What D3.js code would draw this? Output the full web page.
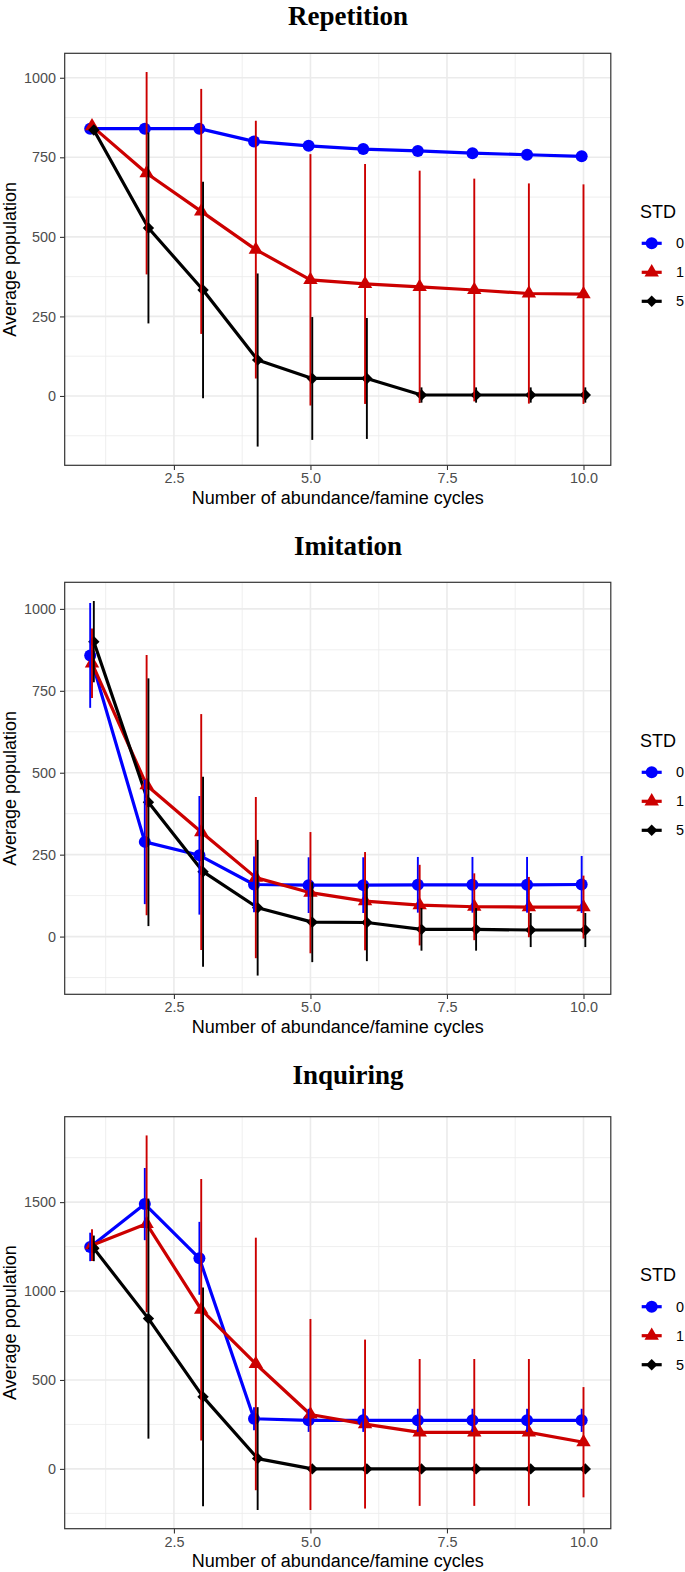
<!DOCTYPE html>
<html>
<head>
<meta charset="utf-8">
<script src="https://cdn.jsdelivr.net/npm/d3@7"></script>
<style>
  body { margin: 0; background: #fff; }
  svg { display: block; }
</style>
</head>
<body>
<svg id="chart" width="685" height="1572"></svg>
<script>
// ---------------- DATA ----------------
const cycles = [1, 2, 3, 4, 5, 6, 7, 8, 9, 10];
const stdLevels = ["0", "1", "5"];
const panelTitles = ["Repetition", "Imitation", "Inquiring"];
const xLabel = "Number of abundance/famine cycles";
const yLabel = "Average population";
const legendTitle = "STD";
const xTicks = [2.5, 5.0, 7.5, 10.0];
const yTicksRep = [0, 250, 500, 750, 1000];
const yTicksImi = [0, 250, 500, 750, 1000];
const yTicksInq = [0, 500, 1000, 1500];

// Repetition
const repMean0 = [840, 840, 840, 800, 786, 776, 770, 763, 758, 753];
const repSd0   = [0, 0, 0, 0, 0, 0, 0, 0, 0, 0];
const repMean1 = [848, 700, 580, 460, 365, 352, 343, 333, 322, 320];
const repSd1   = [0, 318, 385, 405, 395, 377, 365, 350, 346, 345];
const repMean5 = [836, 528, 333, 113, 55, 55, 3, 3, 3, 3];
const repSd5   = [0, 300, 340, 272, 193, 190, 24, 24, 24, 24];

// Imitation
const imiMean0 = [858, 289, 248, 159, 157, 157, 158, 158, 158, 159];
const imiSd0   = [160, 190, 181, 85, 85, 85, 85, 85, 85, 87];
const imiMean1 = [834, 462, 319, 180, 134, 108, 96, 91, 90, 90];
const imiSd1   = [106, 397, 360, 246, 185, 150, 123, 102, 92, 96];
const imiMean5 = [900, 410, 198, 88, 44, 43, 22, 22, 20, 20];
const imiSd5   = [124, 378, 290, 207, 122, 118, 65, 65, 52, 52];

// Inquiring
const inqMean0 = [1248, 1489, 1184, 282, 273, 273, 273, 273, 273, 273];
const inqSd0   = [80, 203, 205, 65, 65, 65, 65, 65, 65, 65];
const inqMean1 = [1258, 1378, 895, 590, 306, 252, 205, 205, 205, 150];
const inqSd1   = [89, 497, 735, 710, 537, 475, 413, 413, 413, 310];
const inqMean5 = [1240, 845, 405, 58, 0, 0, 0, 0, 0, 0];
const inqSd5   = [72, 675, 615, 289, 0, 0, 0, 0, 0, 0];

// ---------------- STYLE / LAYOUT ----------------
const colors = { "0": "#0000FF", "1": "#CC0000", "5": "#000000" };
const dodge = { "0": -1 / 30, "1": 0, "5": 1 / 30 };
const W = 685;
const plotLeft = 64.7, plotRight = 610.8, plotH = 412;
const panelTops = [53.3, 582.3, 1116.7];
const titleBaselines = [24.5, 554.5, 1083.5];
const titleX = 348;
const sansFont = "'Liberation Sans', Arial, Helvetica, sans-serif";
const serifFont = "'Liberation Serif', 'Times New Roman', serif";
const gridCol = "#EBEBEB";
const axisTextCol = "#4D4D4D";

const panelsData = [
  { means: [repMean0, repMean1, repMean5], sds: [repSd0, repSd1, repSd5], yTicks: yTicksRep },
  { means: [imiMean0, imiMean1, imiMean5], sds: [imiSd0, imiSd1, imiSd5], yTicks: yTicksImi },
  { means: [inqMean0, inqMean1, inqMean5], sds: [inqSd0, inqSd1, inqSd5], yTicks: yTicksInq }
];

const svg = d3.select("#chart");
svg.append("rect").attr("width", W).attr("height", 1572).attr("fill", "#fff");

function markerPath(level, size) {
  if (level === "0") {
    const r = size;
    return `M${-r},0A${r},${r} 0 1,0 ${r},0A${r},${r} 0 1,0 ${-r},0Z`;
  } else if (level === "1") {
    const hw = size * 1.2, h = size * 2.05;
    return `M0,${-h * 2 / 3}L${hw},${h / 3}L${-hw},${h / 3}Z`;
  } else {
    const d = size * 0.95;
    return `M0,${-d}L${d},0L0,${d}L${-d},0Z`;
  }
}

const xScale = d3.scaleLinear().domain([0.5, 10.5]).range([plotLeft, plotRight]);

panelsData.forEach((pd, pi) => {
  const top = panelTops[pi];
  const bottom = top + plotH;

  let lo = Infinity, hi = -Infinity;
  pd.means.forEach((m, si) => m.forEach((v, i) => {
    lo = Math.min(lo, v - pd.sds[si][i]);
    hi = Math.max(hi, v + pd.sds[si][i]);
  }));
  const pad = (hi - lo) * 0.05;
  const y = d3.scaleLinear().domain([lo - pad, hi + pad]).range([bottom, top]);

  const g = svg.append("g");

  const step = pd.yTicks[1] - pd.yTicks[0];
  const yMinor = [];
  for (let v = pd.yTicks[0] - step / 2; v <= hi + pad; v += step) {
    if (v >= lo - pad) yMinor.push(v);
  }
  const xMinor = [];
  const xs = xTicks[1] - xTicks[0];
  for (let v = xTicks[0] - xs / 2; v <= 10.5; v += xs) if (v >= 0.5) xMinor.push(v);

  g.selectAll(".ymin").data(yMinor).enter().append("line")
    .attr("x1", plotLeft).attr("x2", plotRight)
    .attr("y1", d => y(d)).attr("y2", d => y(d))
    .attr("stroke", gridCol).attr("stroke-width", 0.8);
  g.selectAll(".xmin").data(xMinor).enter().append("line")
    .attr("y1", top).attr("y2", bottom)
    .attr("x1", d => xScale(d)).attr("x2", d => xScale(d))
    .attr("stroke", gridCol).attr("stroke-width", 0.8);
  g.selectAll(".ymaj").data(pd.yTicks).enter().append("line")
    .attr("x1", plotLeft).attr("x2", plotRight)
    .attr("y1", d => y(d)).attr("y2", d => y(d))
    .attr("stroke", gridCol).attr("stroke-width", 1.6);
  g.selectAll(".xmaj").data(xTicks).enter().append("line")
    .attr("y1", top).attr("y2", bottom)
    .attr("x1", d => xScale(d)).attr("x2", d => xScale(d))
    .attr("stroke", gridCol).attr("stroke-width", 1.6);

  const yAxis = d3.axisLeft(y).tickValues(pd.yTicks).tickSize(4.7).tickPadding(4).tickFormat(d3.format("d"));
  const ya = g.append("g").attr("transform", `translate(${plotLeft},0)`).call(yAxis);
  const xAxis = d3.axisBottom(xScale).tickValues(xTicks).tickSize(4.7).tickPadding(3).tickFormat(d3.format(".1f"));
  const xa = g.append("g").attr("transform", `translate(0,${bottom})`).call(xAxis);
  [ya, xa].forEach(a => {
    a.select(".domain").remove();
    a.selectAll(".tick line").attr("stroke", "#333333").attr("stroke-width", 1.1);
    a.selectAll(".tick text").attr("fill", axisTextCol)
      .style("font-family", sansFont).style("font-size", "14.4px");
  });

  const series = stdLevels.map((lvl, si) => cycles.map((c, i) => ({
    x: c + dodge[lvl], m: pd.means[si][i], s: pd.sds[si][i], lvl
  })));

  const line = d3.line().x(d => xScale(d.x)).y(d => y(d.m));
  series.forEach((s, si) => {
    g.append("path").datum(s).attr("d", line)
      .attr("fill", "none").attr("stroke", colors[stdLevels[si]])
      .attr("stroke-width", 3.2).attr("stroke-linejoin", "round");
  });
  series.forEach((s, si) => {
    g.selectAll(null).data(s).enter().append("path")
      .attr("d", markerPath(stdLevels[si], 6))
      .attr("transform", d => `translate(${xScale(d.x)},${y(d.m)})`)
      .attr("fill", colors[stdLevels[si]]);
  });
  series.forEach((s, si) => {
    g.selectAll(null).data(s.filter(d => d.s > 0)).enter().append("line")
      .attr("x1", d => xScale(d.x)).attr("x2", d => xScale(d.x))
      .attr("y1", d => y(d.m - d.s)).attr("y2", d => y(d.m + d.s))
      .attr("stroke", colors[stdLevels[si]]).attr("stroke-width", 1.9);
  });

  g.append("rect").attr("x", plotLeft).attr("y", top)
    .attr("width", plotRight - plotLeft).attr("height", plotH)
    .attr("fill", "none").attr("stroke", "#333333").attr("stroke-width", 1.2);

  svg.append("text").attr("x", titleX).attr("y", titleBaselines[pi])
    .attr("text-anchor", "middle")
    .style("font-family", serifFont).style("font-weight", "bold").style("font-size", "27px")
    .text(panelTitles[pi]);
  svg.append("text").attr("x", (plotLeft + plotRight) / 2).attr("y", bottom + 38.5)
    .attr("text-anchor", "middle").attr("fill", "#000")
    .style("font-family", sansFont).style("font-size", "18px")
    .text(xLabel);
  const cy = top + plotH / 2;
  svg.append("text")
    .attr("transform", `translate(15.5,${cy}) rotate(-90)`)
    .attr("text-anchor", "middle")
    .style("font-family", sansFont).style("font-size", "18px")
    .text(yLabel);

  const lg = svg.append("g");
  lg.append("text").attr("x", 640).attr("y", cy - 41.5)
    .style("font-family", sansFont).style("font-size", "18px").text(legendTitle);
  stdLevels.forEach((lvl, i) => {
    const ky = cy - 16 + 29 * i;
    lg.append("line").attr("x1", 641.7).attr("x2", 661.7).attr("y1", ky).attr("y2", ky)
      .attr("stroke", colors[lvl]).attr("stroke-width", 3.2);
    lg.append("path").attr("d", markerPath(lvl, 6))
      .attr("transform", `translate(651.7,${ky})`).attr("fill", colors[lvl]);
    lg.append("text").attr("x", 676).attr("y", ky).attr("dy", "0.35em")
      .style("font-family", sansFont).style("font-size", "14.4px").text(lvl);
  });
});
</script>
</body>
</html>
